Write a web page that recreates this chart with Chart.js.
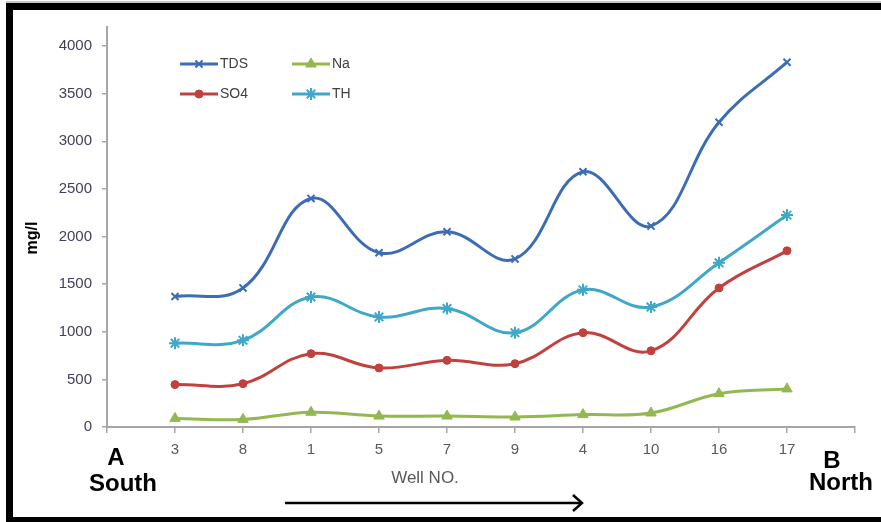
<!DOCTYPE html>
<html>
<head>
<meta charset="utf-8">
<script src="https://cdn.jsdelivr.net/npm/chart.js@4/dist/chart.umd.min.js"></script>
<style>
  html, body { margin: 0; padding: 0; background: #fff; }
  #wrap { position: relative; width: 881px; height: 522px; }
</style>
</head>
<body>
<div id="wrap"><canvas id="wells"></canvas></div>
<script>
// well numbers along the section, south (A) to north (B)
const wells = ['3', '8', '1', '5', '7', '9', '4', '10', '16', '17'];

// concentrations in mg/l
const tds = [1370, 1460, 2400, 1830, 2050, 1765, 2680, 2110, 3200, 3830];
const so4 = [445, 455, 770, 620, 700, 665, 990, 800, 1460, 1850];
const na  = [90, 80, 155, 115, 115, 105, 130, 147, 350, 400];
const th  = [880, 910, 1365, 1155, 1245, 990, 1440, 1260, 1725, 2225];

const yTicks = [0, 500, 1000, 1500, 2000, 2500, 3000, 3500, 4000];

//turn a series into points on the well positions 1..n
function toPoints(arr) {
  return arr.map((v, i) => ({ x: i + 1, y: v }));
}

function series(label, arr, color, style, radius) {
  return {
    label: label,
    data: toPoints(arr),
    borderColor: color,
    backgroundColor: color,
    borderWidth: 3,
    pointStyle: style,
    pointRadius: radius,
    pointBorderWidth: style === 'circle' || style === 'triangle' ? 1 : 2,
    tension: 0.4,
    fill: false
  };
}

const datasets = [
  series('TDS', tds, '#3c6db4', 'crossRot', 5),
  series('Na', na, '#93b852', 'triangle', 6),
  series('SO4', so4, '#c0423e', 'circle', 4),
  series('TH', th, '#3fa8c8', 'star', 6)
];

// frame, legend and the text round the axes
const extras = {
  id: 'extras',
  beforeDraw(chart) {
    const ctx = chart.ctx;
    ctx.save();
    ctx.fillStyle = '#fff';
    ctx.fillRect(0, 0, chart.width, chart.height);
    ctx.restore();
  },
  afterDraw(chart) {
    const ctx = chart.ctx;
    ctx.save();

    //black frame (no right side)
    ctx.fillStyle = '#c8c8c8';
    ctx.fillRect(6, 1, 875, 2);
    ctx.fillStyle = '#000';
    ctx.fillRect(6, 3, 875, 7);
    ctx.fillRect(6, 3, 7, 519);
    ctx.fillRect(6, 517, 875, 5);

    //legend, two columns
    const rows = [[0, 1], [2, 3]];
    ctx.font = '14px "Liberation Sans", Arial, sans-serif';
    ctx.textBaseline = 'middle';
    rows.forEach((row, r) => {
      row.forEach((di, c) => {
        const ds = chart.data.datasets[di];
        const x0 = 180 + c * 112;
        const y = 64 + r * 30;
        ctx.strokeStyle = ds.borderColor;
        ctx.fillStyle = ds.borderColor;
        ctx.lineWidth = 3;
        ctx.beginPath();
        ctx.moveTo(x0, y);
        ctx.lineTo(x0 + 38, y);
        ctx.stroke();
        ctx.lineWidth = ds.pointBorderWidth;
        Chart.helpers.drawPoint(ctx, {
          pointStyle: ds.pointStyle,
          radius: ds.pointRadius,
          borderWidth: ds.pointBorderWidth,
          rotation: 0
        }, x0 + 19, y);
        ctx.fillStyle = '#404040';
        ctx.textAlign = 'left';
        ctx.fillText(ds.label, x0 + 40, y);
      });
    });

    //y title
    ctx.save();
    ctx.translate(33, 238);
    ctx.rotate(-Math.PI / 2);
    ctx.font = 'bold 16px "Liberation Sans", Arial, sans-serif';
    ctx.fillStyle = '#000';
    ctx.textAlign = 'center';
    ctx.textBaseline = 'middle';
    ctx.fillText('mg/l', 0, 0);
    ctx.restore();

    //x title
    ctx.font = '17px "Liberation Sans", Arial, sans-serif';
    ctx.fillStyle = '#595959';
    ctx.textAlign = 'center';
    ctx.textBaseline = 'middle';
    ctx.fillText('Well NO.', 425, 478);

    //section ends
    ctx.fillStyle = '#000';
    ctx.font = 'bold 24px "Liberation Sans", Arial, sans-serif';
    ctx.textBaseline = 'alphabetic';
    ctx.fillText('A', 116, 465);
    ctx.fillText('South', 123, 491);
    ctx.fillText('B', 832, 468);
    ctx.fillText('North', 841, 490);

    //direction arrow
    ctx.strokeStyle = '#000';
    ctx.lineWidth = 2.5;
    ctx.beginPath();
    ctx.moveTo(285, 503);
    ctx.lineTo(581, 503);
    ctx.stroke();
    ctx.beginPath();
    ctx.moveTo(573, 495);
    ctx.lineTo(582, 503);
    ctx.lineTo(573, 511);
    ctx.stroke();

    ctx.restore();
  }
};

const chart = new Chart(document.getElementById('wells'), {
  type: 'line',
  data: { datasets: datasets },
  options: {
    responsive: true,
    maintainAspectRatio: false,
    animation: false,
    layout: { padding: { top: 27, right: 26, left: 0, bottom: 0 } },
    plugins: {
      legend: { display: false },
      tooltip: { enabled: false }
    },
    scales: {
      x: {
        type: 'linear',
        min: 0,
        max: wells.length + 1,
        afterFit: (s) => { s.height = 95; },
        afterBuildTicks: (s) => {
          s.ticks = [];
          for (let i = 0; i <= wells.length + 1; i++) s.ticks.push({ value: i });
        },
        ticks: {
          autoSkip: false,
          maxRotation: 0,
          padding: 8,
          color: '#595959',
          font: { size: 15, family: '"Liberation Sans", Arial, sans-serif' },
          callback: (v) => wells[v - 1] || ''
        },
        grid: { drawOnChartArea: false, drawTicks: true, tickLength: 6, color: '#a6a6a6', lineWidth: 1.5 },
        border: { color: '#a6a6a6', width: 2 }
      },
      y: {
        min: 0,
        max: 4200,
        afterFit: (s) => { s.width = 107; },
        afterBuildTicks: (s) => { s.ticks = yTicks.map((v) => ({ value: v })); },
        ticks: {
          padding: 10,
          color: '#40405a',
          font: { size: 15, family: '"Liberation Sans", Arial, sans-serif' },
          callback: (v) => String(v)
        },
        grid: { drawOnChartArea: false, drawTicks: true, tickLength: 5, color: '#a6a6a6', lineWidth: 1.5 },
        border: { color: '#a6a6a6', width: 2 }
      }
    }
  },
  plugins: [extras]
});
</script>
</body>
</html>
